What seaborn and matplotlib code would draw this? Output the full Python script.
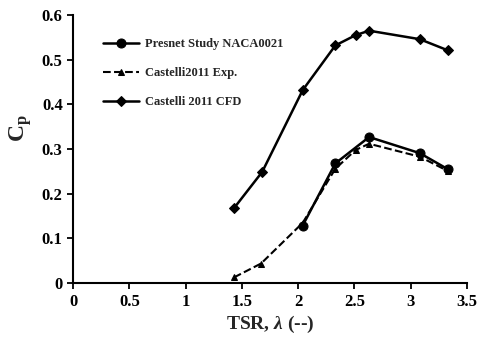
import matplotlib
matplotlib.use("Agg")
import matplotlib.pyplot as plt
import seaborn as sns
from matplotlib.ticker import FuncFormatter

# Cp vs tip speed ratio
present_tsr = [2.04, 2.33, 2.63, 3.08, 3.33]
present_cp = [0.129, 0.268, 0.327, 0.291, 0.255]

exp_tsr = [1.43, 1.67, 2.04, 2.33, 2.51, 2.63, 3.08, 3.33]
exp_cp = [0.013, 0.044, 0.135, 0.256, 0.298, 0.312, 0.283, 0.251]

cfd_tsr = [1.43, 1.68, 2.04, 2.33, 2.51, 2.63, 3.08, 3.33]
cfd_cp = [0.168, 0.249, 0.432, 0.532, 0.555, 0.565, 0.546, 0.521]

sns.set_style("ticks")
plt.rcParams['font.family'] = ['Liberation Serif', 'DejaVu Serif']
plt.rcParams['font.weight'] = 'bold'
plt.rcParams['mathtext.fontset'] = 'custom'
plt.rcParams['mathtext.rm'] = 'Liberation Serif:bold'
plt.rcParams['mathtext.it'] = 'Liberation Serif:italic:bold'
plt.rcParams['mathtext.bf'] = 'Liberation Serif:bold'

fig = plt.figure(figsize=(4.78, 3.42), dpi=100)
ax = fig.add_axes([0.153, 0.172, 0.824, 0.784])

sns.lineplot(x=present_tsr, y=present_cp, ax=ax, color='black', marker='o',
             markersize=6.5, linewidth=1.8, markeredgecolor='black',
             label='Presnet Study NACA0021')
sns.lineplot(x=exp_tsr, y=exp_cp, ax=ax, color='black', marker='^',
             markersize=5, linewidth=1.5, linestyle='--', markeredgecolor='black',
             label='Castelli2011 Exp.')
sns.lineplot(x=cfd_tsr, y=cfd_cp, ax=ax, color='black', marker='D',
             markersize=5, linewidth=1.8, markeredgecolor='black',
             label='Castelli 2011 CFD')

ax.set_xlim(0, 3.5)
ax.set_ylim(0, 0.6)
ax.set_xticks([0, 0.5, 1, 1.5, 2, 2.5, 3, 3.5])
ax.set_yticks([0, 0.1, 0.2, 0.3, 0.4, 0.5, 0.6])
ax.xaxis.set_major_formatter(FuncFormatter(lambda v, p: '%g' % v))
ax.yaxis.set_major_formatter(FuncFormatter(lambda v, p: '%g' % v))
ax.tick_params(labelsize=12, width=1.3, length=4, colors='black', direction='out')
for lab in ax.get_xticklabels() + ax.get_yticklabels():
    lab.set_fontweight('bold')

sns.despine(ax=ax)
for s in ['left', 'bottom']:
    ax.spines[s].set_linewidth(1.5)
    ax.spines[s].set_color('black')

ax.set_xlabel(r'TSR, $\lambda$ (--)', fontsize=14, fontweight='bold', labelpad=3)
ax.set_ylabel(r'C$_\mathrm{p}$', fontsize=17, fontweight='bold')
ax.yaxis.set_label_coords(-0.1, 0.58)

leg = ax.legend(loc='upper left', bbox_to_anchor=(0.047, 0.955), frameon=False,
                prop={'family': 'Liberation Serif', 'weight': 'bold', 'size': 9},
                labelspacing=1.35, handlelength=2.9, handletextpad=0.45)

fig.savefig('out.png', dpi=100)
